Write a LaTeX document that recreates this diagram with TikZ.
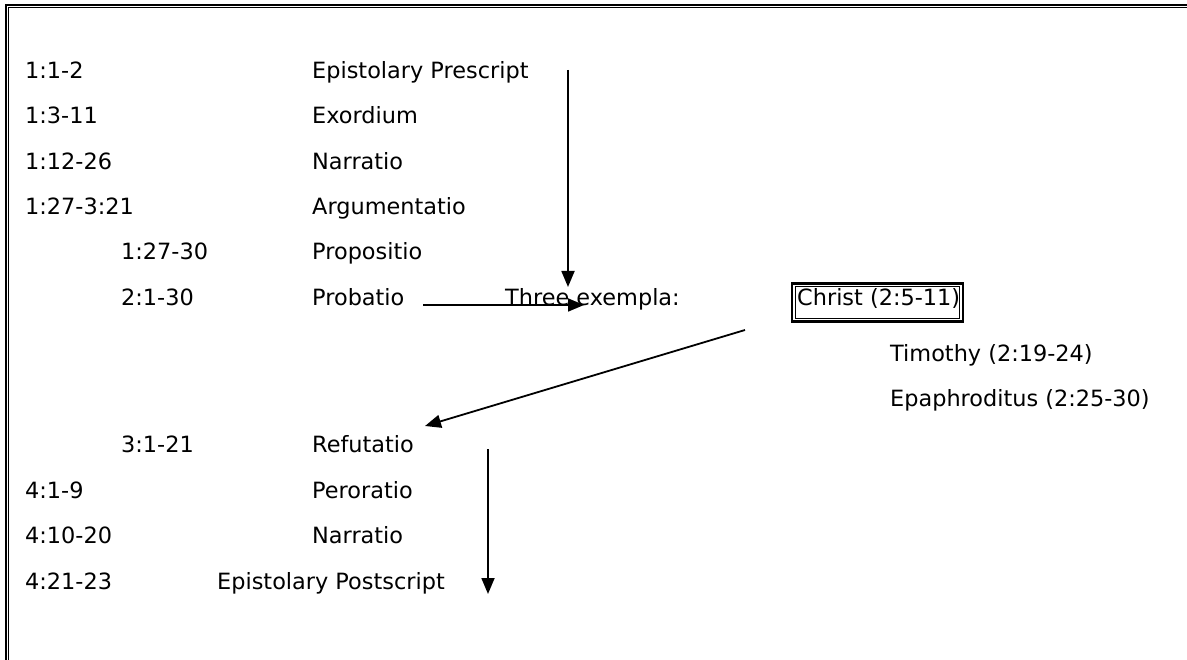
\documentclass[tikz,border=0pt]{standalone}
\usepackage{fontspec}
\setmainfont{DejaVu Sans}
\usetikzlibrary{arrows.meta}
\begin{document}
\begin{tikzpicture}[x=1pt,y=-1pt,
  lbl/.style={anchor=base west,inner sep=0pt,font=\fontsize{22.4}{27}\selectfont},
  arr/.style={line width=1.8pt,-{Triangle[length=16pt,width=13pt]}},
  frameout/.style={line width=2.3pt},
  framein/.style={line width=1.2pt}]
\useasboundingbox (0,0) rectangle (1187,660);
% page border (top and left, double)
\draw[frameout] (6,660) -- (6,5.2) -- (1187,5.2);
\draw[framein] (8.6,660) -- (8.6,7.8) -- (1187,7.8);
% column 1
\node[lbl] (r1) at (25,79) {1:1-2};
\node[lbl] (r2) at (25,124) {1:3-11};
\node[lbl] (r3) at (25,169.5) {1:12-26};
\node[lbl] (r4) at (25,215) {1:27-3:21};
\node[lbl] (r5) at (121,260) {1:27-30};
\node[lbl] (r6) at (121,306) {2:1-30};
\node[lbl] (r9) at (121,453) {3:1-21};
\node[lbl] (r10) at (25,498) {4:1-9};
\node[lbl] (r11) at (25,543) {4:10-20};
\node[lbl] (r12) at (25,589) {4:21-23};
% column 2
\node[lbl] (n1) at (312,79) {Epistolary Prescript};
\node[lbl] (n2) at (312,124) {Exordium};
\node[lbl] (n3) at (312,169.5) {Narratio};
\node[lbl] (n4) at (312,215) {Argumentatio};
\node[lbl] (n5) at (312,260) {Propositio};
\node[lbl] (n6) at (312,306) {Probatio};
\node[lbl] (n9) at (312,453) {Refutatio};
\node[lbl] (n10) at (312,498) {Peroratio};
\node[lbl] (n11) at (312,543) {Narratio};
\node[lbl] (n12) at (217,589) {Epistolary Postscript};
% exempla
\node[lbl] (ex) at (505,306) {Three exempla:};
\node[lbl] (christ) at (797,306) {Christ (2:5-11)};
\draw[frameout] (792.2,283.5) rectangle (962.8,321.5);
\draw[framein] (795.2,286.5) rectangle (959.8,318.5);
\node[lbl] (tim) at (890,362) {Timothy (2:19-24)};
\node[lbl] (epa) at (890,407) {Epaphroditus (2:25-30)};
% arrow end points
\coordinate (a1s) at (568,70);
\coordinate (a1e) at (568,287);
\coordinate (a2s) at (423,305);
\coordinate (a2e) at (584,305);
\coordinate (a3s) at (745,330);
\coordinate (a3e) at (425,426);
\coordinate (a4s) at (488,449);
\coordinate (a4e) at (488,594);
\draw[arr] (a1s) -- (a1e);
\draw[arr] (a2s) -- (a2e);
\draw[arr] (a3s) -- (a3e);
\draw[arr] (a4s) -- (a4e);
\end{tikzpicture}
\end{document}
